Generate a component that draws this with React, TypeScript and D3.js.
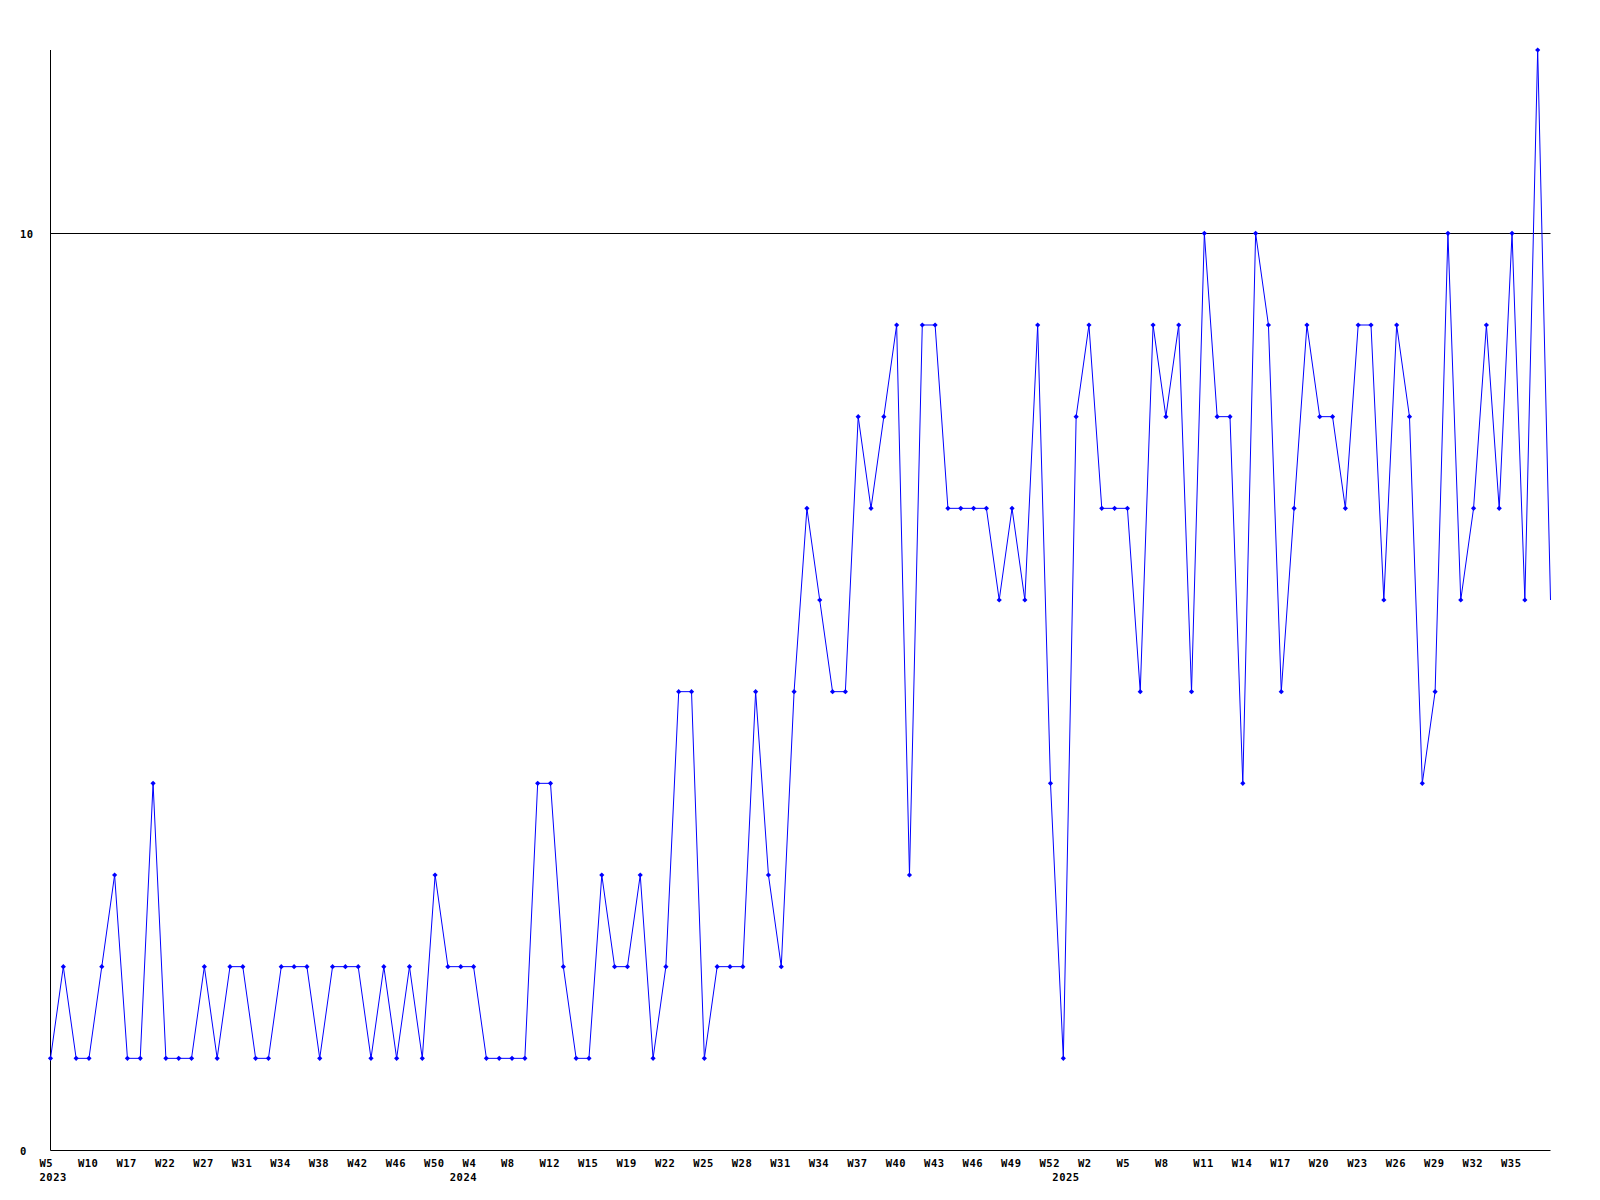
import React from "react";
import * as d3 from "d3";

const values: number[] = [
  1, 2, 1, 1, 2, 3, 1, 1, 4, 1, 1, 1, 2, 1, 2, 2, 1, 1, 2, 2,
  2, 1, 2, 2, 2, 1, 2, 1, 2, 1, 3, 2, 2, 2, 1, 1, 1, 1, 4, 4,
  2, 1, 1, 3, 2, 2, 3, 1, 2, 5, 5, 1, 2, 2, 2, 5, 3, 2, 5, 7,
  6, 5, 5, 8, 7, 8, 9, 3, 9, 9, 7, 7, 7, 7, 6, 7, 6, 9, 4, 1,
  8, 9, 7, 7, 7, 5, 9, 8, 9, 5, 10, 8, 8, 4, 10, 9, 5, 7, 9, 8,
  8, 7, 9, 9, 6, 9, 8, 4, 5, 10, 6, 7, 9, 7, 10, 6, 12, 6,
];

// week labels shown on every third point
const weekLabels: string[] = [
  "W5", "W10", "W17", "W22", "W27", "W31", "W34", "W38", "W42", "W46", "W50",
  "W4", "W8", "W12", "W15", "W19", "W22", "W25", "W28", "W31", "W34", "W37",
  "W40", "W43", "W46", "W49", "W52",
  "W2", "W5", "W8", "W11", "W14", "W17", "W20", "W23", "W26", "W29", "W32", "W35",
];
const labelStep = 3;

const yearLabels: string[] = ["2023", "2024", "2025"];
const yearStartIndex: number[] = [0, 32, 79];

const yTicks: number[] = [0, 10];
const yMax = 12;

const FONT = "'DejaVu Sans Mono', 'Liberation Mono', monospace";
const FS = 10.5;
const LS = 0.5;

export default function App() {
  const width = 1600;
  const height = 1200;
  const left = 50.5;
  const right = 1550.5;
  const top = 50;
  const bottom = 1150;

  const idx = values.map((_, i) => i);
  const x = d3.scalePoint<number>().domain(idx).range([left, right]);
  const y = d3.scaleLinear().domain([0, yMax]).range([bottom, top]);

  const line = d3
    .line<number>()
    .x((_, i) => x(i) as number)
    .y((d) => y(d));

  const diamond = (cx: number, cy: number) =>
    `M${cx},${cy - 2.6}L${cx + 2.6},${cy}L${cx},${cy + 2.6}L${cx - 2.6},${cy}Z`;

  const textProps = {
    fontFamily: FONT,
    fontWeight: "bold" as const,
    fontSize: FS,
    letterSpacing: LS,
    fill: "#000",
  };

  return (
    <svg
      width={width}
      height={height}
      style={{ position: "absolute", left: 0, top: 0, background: "#fff" }}
    >
      <rect x={0} y={0} width={width} height={height} fill="#fff" />
      {yTicks
        .filter((t) => t !== 0)
        .map((t) => (
          <line
            key={"g" + t}
            x1={left}
            x2={right}
            y1={Math.round(y(t)) + 0.5}
            y2={Math.round(y(t)) + 0.5}
            stroke="#000"
            strokeWidth={1}
          />
        ))}
      <line x1={left} x2={left} y1={top} y2={bottom + 0.5} stroke="#000" strokeWidth={1} />
      <line x1={left} x2={right} y1={bottom + 0.5} y2={bottom + 0.5} stroke="#000" strokeWidth={1} />
      {yTicks.map((t) => (
        <text key={"y" + t} x={20} y={y(t) + 4.7} {...textProps}>
          {t}
        </text>
      ))}
      {weekLabels.map((lab, k) => (
        <text key={"w" + k} x={(x(k * labelStep) as number) - 11} y={1167} {...textProps}>
          {lab}
        </text>
      ))}
      {yearLabels.map((lab, k) => (
        <text key={"yr" + k} x={(x(yearStartIndex[k]) as number) - 11} y={1180.5} {...textProps}>
          {lab}
        </text>
      ))}
      <path d={line(values) || ""} fill="none" stroke="#0000ff" strokeWidth={1} />
      {values.slice(0, values.length - 1).map((v, i) => (
        <path key={"m" + i} d={diamond(x(i) as number, y(v))} fill="#0000ff" />
      ))}
    </svg>
  );
}
